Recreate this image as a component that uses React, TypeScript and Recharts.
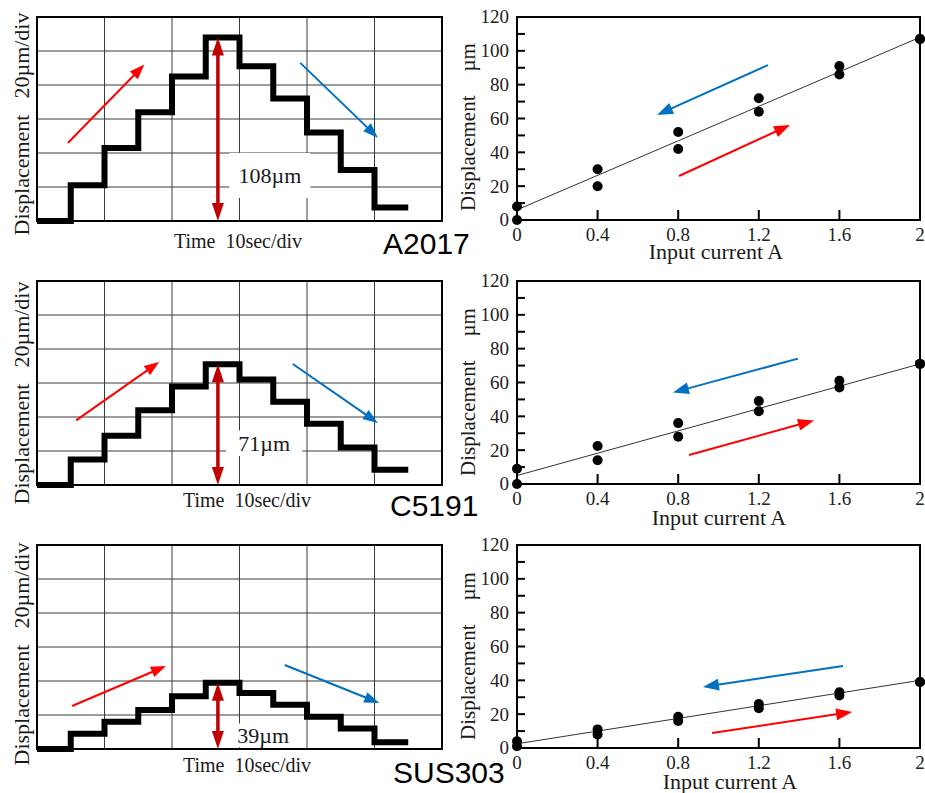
import React from 'react';
import {
  LineChart,
  Line,
  XAxis,
  YAxis,
  CartesianGrid,
  ReferenceArea,
  ReferenceLine,
  ComposedChart,
  Scatter,
} from 'recharts';

// ---------- data ----------
const MATERIALS = ['A2017', 'C5191', 'SUS303'];

// oscilloscope traces (time in s, displacement in µm)
const TIME = [0, 5, 10, 15, 20, 25, 30, 35, 40, 45, 50, 55];
const TRACE_A2017 = [0, 21, 43, 64, 85, 108, 91, 72, 52, 30, 8, 8];
const TRACE_C5191 = [0, 15, 29, 44, 58, 71, 62, 49, 36, 22, 9, 9];
const TRACE_SUS303 = [0, 9, 16, 23, 31, 39, 33, 26, 19, 12, 4, 4];
const TIME_GRID = [0, 10, 20, 30, 40, 50, 60];
const DISP_GRID = [0, 20, 40, 60, 80, 100, 120];
const DISP_TICKS = [0, 10, 20, 30, 40, 50, 60, 70, 80, 90, 100, 110, 120];
const DISP_LABEL_STEP = 20;
const PEAK_LABELS = ['108µm', '71µm', '39µm'];
const PEAKS = [108, 71, 39];

// displacement vs input current (values listed in the order of CURRENT)
const CURRENT = [0, 0.4, 0.8, 1.2, 1.6, 2];
const CURRENT_TICKS = [0, 0.4, 0.8, 1.2, 1.6, 2];
const UP_A2017 = [0, 20, 42, 64, 86, 107];
const DOWN_A2017 = [8, 30, 52, 72, 91, 107];
const UP_C5191 = [0, 14, 28, 43, 57, 71];
const DOWN_C5191 = [9, 22.5, 36, 49, 61, 71];
const UP_SUS303 = [1, 8, 16, 23.5, 31, 39];
const DOWN_SUS303 = [4, 11, 18.5, 26, 33, 39];
const FIT_A2017 = [6, 108];
const FIT_C5191 = [5, 71];
const FIT_SUS303 = [2.5, 40];

// annotation arrows (data coordinates)
const TRACE_ANN = [
  { up: [[4.6, 46], [15.9, 92]], down: [[39, 93], [50.5, 49]], peakT: 26.8, boxT: [28.5, 40.5], boxV: [13.5, 40] },
  { up: [[5.8, 38], [18.1, 72.4]], down: [[37.9, 71.2], [50.5, 36.5]], peakT: 26.8, boxT: [28, 39.3], boxV: [17, 32] },
  { up: [[5.2, 25.3], [19.1, 48.8]], down: [[36.7, 49.4], [50.7, 27.1]], peakT: 26.8, boxT: [29, 38], boxV: [1, 15] },
];
const CURVE_ANN = [
  { blue: [[1.246, 91.6], [0.695, 62.1]], red: [[0.804, 26], [1.355, 56.2]] },
  { blue: [[1.394, 74.1], [0.774, 54.1]], red: [[0.854, 17.1], [1.474, 37.6]] },
  { blue: [[1.618, 48.5], [0.923, 36.1]], red: [[0.968, 8.9], [1.663, 21.3]] },
];

const TRACES = [TRACE_A2017, TRACE_C5191, TRACE_SUS303];
const UPS = [UP_A2017, UP_C5191, UP_SUS303];
const DOWNS = [DOWN_A2017, DOWN_C5191, DOWN_SUS303];
const FITS = [FIT_A2017, FIT_C5191, FIT_SUS303];

// ---------- style ----------
const SERIF = '"Liberation Serif", "Times New Roman", serif';
const SANS = '"Liberation Sans", Arial, sans-serif';
const RED = '#ff0000';
const BLUE = '#0070c0';
const DARK_RED = '#c00000';
const ROW_OFFSETS = [0, 264, 528];
const TICK_SIZE = 6;
const TICK_MARGIN = 2;

const arrowShape =
  (color: string, width: number, headLen: number, headW: number, both = false) =>
  (p: any) => {
    const x1 = Number(p.x1);
    const y1 = Number(p.y1);
    const x2 = Number(p.x2);
    const y2 = Number(p.y2);
    if (![x1, y1, x2, y2].every((v) => Number.isFinite(v))) return <g />;
    const dx = x2 - x1;
    const dy = y2 - y1;
    const L = Math.hypot(dx, dy) || 1;
    const ux = dx / L;
    const uy = dy / L;
    const nx = -uy;
    const ny = ux;
    const head = (tx: number, ty: number, dx2: number, dy2: number) => {
      const bx = tx - dx2 * headLen;
      const by = ty - dy2 * headLen;
      return `${tx},${ty} ${bx + (nx * headW) / 2},${by + (ny * headW) / 2} ${bx - (nx * headW) / 2},${by - (ny * headW) / 2}`;
    };
    const sx = both ? x1 + ux * headLen * 0.8 : x1;
    const sy = both ? y1 + uy * headLen * 0.8 : y1;
    const ex = x2 - ux * headLen * 0.8;
    const ey = y2 - uy * headLen * 0.8;
    return (
      <g>
        <line x1={sx} y1={sy} x2={ex} y2={ey} stroke={color} strokeWidth={width} />
        <polygon points={head(x2, y2, ux, uy)} fill={color} />
        {both && <polygon points={head(x1, y1, -ux, -uy)} fill={color} />}
      </g>
    );
  };

function TracePanel({ idx }: { idx: number }) {
  const trace = TRACES[idx];
  const ann = TRACE_ANN[idx];
  const data = TIME.map((t, i) => ({ t, v: trace[i] }));
  return (
    <LineChart
      width={450}
      height={260}
      data={data}
      margin={{ top: 17, right: 8, bottom: 39, left: 37 }}
      style={{ fontFamily: SERIF }}
    >
      <XAxis dataKey="t" type="number" domain={[0, 60]} ticks={TIME_GRID} hide />
      <YAxis type="number" domain={[0, 120]} ticks={DISP_GRID} hide />
      <CartesianGrid stroke="#3a3a3a" strokeWidth={1} />
      <ReferenceArea
        x1={ann.boxT[0]}
        x2={ann.boxT[1]}
        y1={ann.boxV[0]}
        y2={ann.boxV[1]}
        fill="#ffffff"
        fillOpacity={1}
        stroke="none"
        label={{ value: PEAK_LABELS[idx], position: 'center', fill: '#1a1a1a', fontSize: 22, fontFamily: SERIF }}
      />
      <ReferenceArea x1={0} x2={60} y1={0} y2={120} fill="none" stroke="#000" strokeWidth={2} />
      <Line
        type="stepAfter"
        dataKey="v"
        stroke="#000"
        strokeWidth={6}
        dot={false}
        activeDot={false}
        isAnimationActive={false}
      />
      <ReferenceLine
        segment={[{ x: ann.peakT, y: 0 }, { x: ann.peakT, y: PEAKS[idx] }]}
        shape={arrowShape(DARK_RED, 3.5, 18, 12, true)}
      />
      <ReferenceLine
        segment={[{ x: ann.up[0][0], y: ann.up[0][1] }, { x: ann.up[1][0], y: ann.up[1][1] }]}
        shape={arrowShape(RED, 2, 15, 11)}
      />
      <ReferenceLine
        segment={[{ x: ann.down[0][0], y: ann.down[0][1] }, { x: ann.down[1][0], y: ann.down[1][1] }]}
        shape={arrowShape(BLUE, 2, 15, 11)}
      />
    </LineChart>
  );
}

const dotShape = (p: any) =>
  Number.isFinite(p.cx) && Number.isFinite(p.cy) ? <circle cx={p.cx} cy={p.cy} r={5} fill="#000" /> : <g />;

// y tick: label every 20, inward tick mark every 10 (except the ends)
const YTick = (p: any) => {
  const v = Number(p.payload?.value);
  const x = Number(p.x);
  const y = Number(p.y);
  const edge = x + TICK_SIZE + TICK_MARGIN;
  const showLabel = v % DISP_LABEL_STEP === 0;
  const showMark = v > 0 && v < 120;
  return (
    <g>
      {showMark && <line x1={edge} y1={y} x2={edge + 8} y2={y} stroke="#000" strokeWidth={2} />}
      {showLabel && (
        <text x={x} y={y} dy="0.34em" textAnchor="end" fontFamily={SERIF} fontSize={19} fill="#222">
          {v}
        </text>
      )}
    </g>
  );
};

// x tick: label at every tick, inward tick mark for inner ticks
const XTick = (p: any) => {
  const v = Number(p.payload?.value);
  const x = Number(p.x);
  const y = Number(p.y);
  const edge = y - TICK_SIZE - TICK_MARGIN;
  const showMark = v > 0 && v < 2;
  return (
    <g>
      {showMark && <line x1={x} y1={edge} x2={x} y2={edge - 10} stroke="#000" strokeWidth={2} />}
      <text x={x} y={y} dy="0.71em" textAnchor="middle" fontFamily={SERIF} fontSize={19} fill="#222">
        {String(v)}
      </text>
    </g>
  );
};

function CurvePanel({ idx }: { idx: number }) {
  const upData = CURRENT.map((x, i) => ({ x, y: UPS[idx][i] }));
  const downData = CURRENT.map((x, i) => ({ x, y: DOWNS[idx][i] }));
  const fit = FITS[idx];
  const ann = CURVE_ANN[idx];
  return (
    <ComposedChart
      width={485}
      height={265}
      margin={{ top: 17, right: 5, bottom: 0, left: 17 }}
      style={{ fontFamily: SERIF }}
    >
      <XAxis
        dataKey="x"
        type="number"
        domain={[0, 2]}
        ticks={CURRENT_TICKS}
        interval={0}
        height={45}
        tickSize={TICK_SIZE}
        tickMargin={TICK_MARGIN}
        tickLine={false}
        axisLine={{ stroke: '#000', strokeWidth: 2 }}
        tick={XTick}
      />
      <YAxis
        dataKey="y"
        type="number"
        domain={[0, 120]}
        ticks={DISP_TICKS}
        interval={0}
        width={60}
        tickSize={TICK_SIZE}
        tickMargin={TICK_MARGIN}
        tickLine={false}
        axisLine={{ stroke: '#000', strokeWidth: 2 }}
        tick={YTick}
      />
      <ReferenceArea x1={0} x2={2} y1={0} y2={120} fill="none" stroke="#000" strokeWidth={2} />
      <ReferenceLine segment={[{ x: 0, y: fit[0] }, { x: 2, y: fit[1] }]} stroke="#333" strokeWidth={1} />
      <ReferenceLine
        segment={[{ x: ann.blue[0][0], y: ann.blue[0][1] }, { x: ann.blue[1][0], y: ann.blue[1][1] }]}
        shape={arrowShape(BLUE, 2, 16, 12)}
      />
      <ReferenceLine
        segment={[{ x: ann.red[0][0], y: ann.red[0][1] }, { x: ann.red[1][0], y: ann.red[1][1] }]}
        shape={arrowShape(RED, 2, 16, 12)}
      />
      <Scatter data={upData} dataKey="y" shape={dotShape} isAnimationActive={false} />
      <Scatter data={downData} dataKey="y" shape={dotShape} isAnimationActive={false} />
    </ComposedChart>
  );
}

// text positions (page pixels)
const LEFT_Y_TITLE_CY = [124, 393, 654];
const TIME_TITLE = [
  [238, 248],
  [247, 507],
  [247, 772],
];
const CURRENT_TITLE = [
  [716, 259],
  [719, 525],
  [730, 789],
];
const RIGHT_Y_TITLE_CY = [127, 392, 656];
const MATERIAL_POS = [
  [383, 254],
  [390, 516],
  [393, 783],
];

export default function App() {
  return (
    <div
      style={{
        position: 'absolute',
        left: 0,
        top: 0,
        width: 925,
        height: 793,
        background: '#ffffff',
        overflow: 'hidden',
        fontFamily: SERIF,
      }}
    >
      {[0, 1, 2].map((i) => (
        <React.Fragment key={i}>
          <div style={{ position: 'absolute', left: 0, top: ROW_OFFSETS[i] }}>
            <TracePanel idx={i} />
          </div>
          <div style={{ position: 'absolute', left: 440, top: ROW_OFFSETS[i] }}>
            <CurvePanel idx={i} />
          </div>
        </React.Fragment>
      ))}
      <svg
        width={925}
        height={793}
        style={{ position: 'absolute', left: 0, top: 0, pointerEvents: 'none' }}
      >
        {[0, 1, 2].map((i) => (
          <g key={i} fontFamily={SERIF} fill="#1a1a1a">
            <text
              transform={`translate(21, ${LEFT_Y_TITLE_CY[i]}) rotate(-90)`}
              textAnchor="middle"
              dominantBaseline="central"
              fontSize={22}
            >
              <tspan>Displacement</tspan>
              <tspan dx={16}>20µm/div</tspan>
            </text>
            <text x={TIME_TITLE[i][0]} y={TIME_TITLE[i][1]} textAnchor="middle" fontSize={20}>
              <tspan>Time</tspan>
              <tspan dx={10}>10sec/div</tspan>
            </text>
            <text x={CURRENT_TITLE[i][0]} y={CURRENT_TITLE[i][1]} textAnchor="middle" fontSize={22}>
              Input current A
            </text>
            <text
              transform={`translate(468, ${RIGHT_Y_TITLE_CY[i]}) rotate(-90)`}
              textAnchor="middle"
              dominantBaseline="central"
              fontSize={21}
            >
              <tspan>Displacement</tspan>
              <tspan dx={24}>µm</tspan>
            </text>
            <text
              x={MATERIAL_POS[i][0]}
              y={MATERIAL_POS[i][1]}
              fontFamily={SANS}
              fontSize={30}
              fill="#000"
            >
              {MATERIALS[i]}
            </text>
          </g>
        ))}
      </svg>
    </div>
  );
}
